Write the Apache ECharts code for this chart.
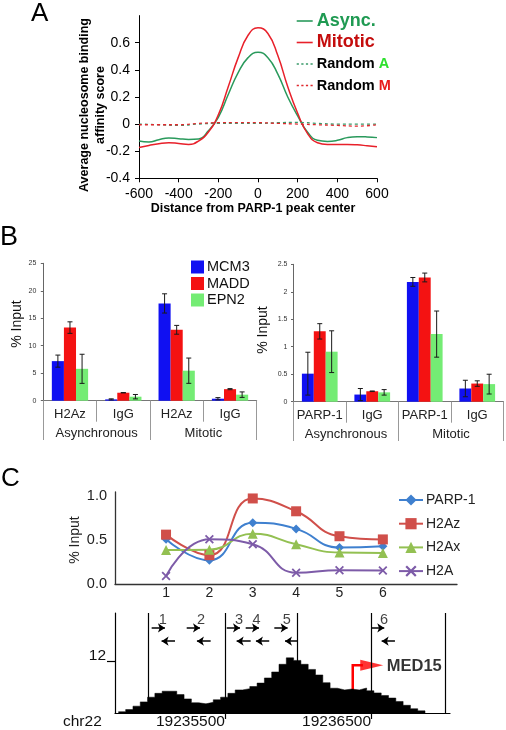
<!DOCTYPE html>
<html>
<head>
<meta charset="utf-8">
<script src="https://cdn.jsdelivr.net/npm/echarts@6/dist/echarts.min.js"></script>
<style>html,body{margin:0;padding:0;background:#fff;}#c{width:506px;height:730px;}</style>
</head>
<body>
<div id="c"></div>
<script>
// ---------- Panel A data ----------
const distA = [-600,-550,-500,-450,-400,-350,-300,-250,-200,-150,-100,-50,0,50,100,150,200,250,300,350,400,450,500,550,600];
const asyncScore = [-0.125,-0.133,-0.115,-0.103,-0.108,-0.113,-0.11,-0.05,0.05,0.218,0.38,0.49,0.53,0.49,0.368,0.20,0.06,-0.06,-0.12,-0.128,-0.12,-0.10,-0.093,-0.095,-0.10];
const mitoticScore = [-0.173,-0.158,-0.145,-0.138,-0.143,-0.15,-0.125,-0.058,0.068,0.275,0.49,0.655,0.71,0.668,0.505,0.275,0.08,-0.07,-0.138,-0.15,-0.15,-0.15,-0.153,-0.16,-0.168];
const distRandom = [-600,-500,-400,-300,-200,-100,0,100,200,300,400,500,600];
const randomA = [0.0,-0.005,-0.01,0.0,0.005,0.005,0.005,0.01,0.012,0.005,0.0,0.0,0.0];
const randomM = [-0.005,-0.005,-0.005,0.005,0.01,0.01,0.01,0.005,0.0,-0.005,-0.01,-0.015,-0.005];

// ---------- Panel B data ----------
const catsBLeft = ['H2Az','IgG','H2Az','IgG'];
const catsBRight = ['PARP-1','IgG','PARP-1','IgG'];
const groupsB = ['Asynchronous','Mitotic'];
const mcm3Left = [7.2,0.24,17.7,0.36];   const mcm3LeftErr = [1.1,0.1,1.75,0.2];
const maddLeft = [13.3,1.45,12.9,2.1];   const maddLeftErr = [1.05,0.03,0.8,0.1];
const epn2Left = [5.8,0.73,5.46,1.1];    const epn2LeftErr = [2.65,0.4,2.3,0.5];
const mcm3Right = [0.51,0.13,2.18,0.24]; const mcm3RightErr = [0.39,0.11,0.08,0.15];
const maddRight = [1.28,0.19,2.26,0.33]; const maddRightErr = [0.14,0.005,0.08,0.05];
const epn2Right = [0.91,0.17,1.23,0.32]; const epn2RightErr = [0.38,0.05,0.42,0.18];

// ---------- Panel C (top) data ----------
const primerSites = [1,2,3,4,5,6];
const parp1 = [0.507,0.268,0.692,0.623,0.413,0.428];
const h2az  = [0.558,0.326,0.967,0.822,0.54,0.504];
const h2ax  = [0.384,0.388,0.569,0.449,0.355,0.351];
const h2a   = [0.091,0.507,0.449,0.127,0.156,0.152];

// ---------- Panel C (bottom) data ----------
const binStart = [19234770,19234820,19234870,19234920,19234970,19235020,19235070,19235120,19235170,19235220,19235270,19235320,19235370,19235420,19235470,19235520,19235570,19235620,19235670,19235720,19235770,19235820,19235870,19235920,19235970,19236020,19236070,19236120,19236170,19236220,19236270,19236320,19236370,19236420,19236470,19236520,19236570,19236620,19236670,19236720,19236770,19236820];
const binEnd = 19236870;
const readDepth = [0.3,0.8,1.6,2.6,3.7,4.6,5.1,5.1,4.3,3.3,2.4,2.15,2.5,3.1,3.7,4.6,5.4,5.7,6.2,7.0,8.2,9.6,11.4,12.9,12.3,11.4,10.2,8.9,7.1,5.8,5.4,5.6,5.4,5.85,5.2,4.7,4.1,3.5,2.7,1.8,1.0,0.5];
const guideLines = [19234973,19235500,19235998,19236500,19237007];
const genomeTicks = [19235500,19236500];
const primerNames = ['1','2','3','4','5','6'];
const primerLabelPos = [19235075,19235336,19235596,19235717,19235923,19236589];
const fwdStart = [19234998,19235238,19235512,19235642,19235838,19236500];
const fwdEnd   = [19235089,19235329,19235603,19235733,19235929,19236591];
const revStart = [19235158,19235402,19235676,19235803,19235998,19236664];
const revEnd   = [19235066,19235308,19235580,19235712,19235911,19236573];
const med15Tss = 19236375;
const med15FlagEnd = 19236505;
const med15Label = 19236608;

const FONT = '"Liberation Sans", Arial, Helvetica, sans-serif';
const chart = echarts.init(document.getElementById('c'), null, {renderer:'canvas'});

const cBlue = '#1010f2', cRed = '#f41212', cGreen = '#74ec74';
const CAT_GAP = 0.32;

function errSeries(xIdx, yIdx, vals, errs, k) {
  return {
    type: 'custom', xAxisIndex: xIdx, yAxisIndex: yIdx, z: 5, silent: true,
    data: vals.map((v, i) => [i, v, errs[i]]),
    renderItem: function (params, api) {
      const i = api.value(0), v = api.value(1), e = api.value(2);
      const bandW = api.size([1, 0])[0];
      const bw = bandW * (1 - CAT_GAP) / 3;
      const cx = api.coord([i, v])[0] + (k - 1) * bw;
      const yt = api.coord([i, v + e])[1];
      const yb = api.coord([i, Math.max(v - e, 0)])[1];
      const cap = 2.5;
      const st = {stroke: '#1a1a1a', lineWidth: 1};
      return {type: 'group', children: [
        {type: 'line', shape: {x1: cx, y1: yt, x2: cx, y2: yb}, style: st},
        {type: 'line', shape: {x1: cx - cap, y1: yt, x2: cx + cap, y2: yt}, style: st},
        {type: 'line', shape: {x1: cx - cap, y1: yb, x2: cx + cap, y2: yb}, style: st}
      ]};
    }
  };
}
function barSeries(name, xIdx, yIdx, vals, color) {
  return {type: 'bar', name: name, xAxisIndex: xIdx, yAxisIndex: yIdx, data: vals,
    itemStyle: {color: color}, barGap: '0%', barCategoryGap: (CAT_GAP * 100) + '%', silent: true};
}
function catAxis(grid, data, len, margin, showLine) {
  return {type: 'category', gridIndex: grid, data: data, position: 'bottom',
    axisLine: {show: showLine, onZero: false, lineStyle: {color: '#777', width: 1}},
    axisTick: {show: true, interval: 0, length: len, lineStyle: {color: '#999', width: 1}},
    axisLabel: {interval: 0, margin: margin, fontFamily: FONT, fontSize: 13, color: '#222'},
    splitLine: {show: false}};
}
const xSymbol = 'path://M0,1.4L1.4,0L5,3.6L8.6,0L10,1.4L6.4,5L10,8.6L8.6,10L5,6.4L1.4,10L0,8.6L3.6,5Z';
const solidIcon = 'path://M0,0H16V1.6H0Z';
const dashIcon = 'path://M0,0H2.2V1.6H0Z M4.6,0H6.8V1.6H4.6Z M9.2,0H11.4V1.6H9.2Z M13.8,0H16V1.6H13.8Z';

const option = {
  animation: false,
  backgroundColor: '#fff',
  textStyle: {fontFamily: FONT},
  grid: [
    {left: 139, top: 15.6, width: 238, height: 162.7},
    {left: 43.3, top: 263.3, width: 213.4, height: 137.4},
    {left: 293.5, top: 264.3, width: 210, height: 137.4},
    {left: 115, top: 492, width: 342, height: 92},
    {left: 115, top: 613, width: 335, height: 102}
  ],
  xAxis: [
    {type: 'value', gridIndex: 0, min: -600, max: 600, interval: 200,
      axisLine: {onZero: false, lineStyle: {color: '#000', width: 1}},
      axisTick: {length: 4, lineStyle: {color: '#000'}},
      axisLabel: {margin: 9, fontFamily: FONT, fontSize: 14, color: '#000'},
      splitLine: {show: false}},
    catAxis(1, catsBLeft, 21, 7, true),
    catAxis(1, groupsB, 39.3, 26, false),
    catAxis(2, catsBRight, 21, 7, true),
    catAxis(2, groupsB, 39.3, 26, false),
    {type: 'value', gridIndex: 3, min: -0.177, max: 7.71,
      axisLine: {onZero: false, lineStyle: {color: '#333', width: 1.3}},
      axisTick: {show: false},
      axisLabel: {margin: 2, fontFamily: FONT, fontSize: 14, color: '#222',
        customValues: primerSites,
        formatter: v => (Number.isInteger(v) && v >= 1 && v <= 6) ? String(v) : ''},
      splitLine: {show: false}},
    {type: 'value', gridIndex: 4, min: 19234747, max: 19237041, scale: true,
      axisLine: {onZero: false, lineStyle: {color: '#000', width: 1.2}},
      axisTick: {length: 6, customValues: genomeTicks, lineStyle: {color: '#000', width: 1.2}},
      axisLabel: {margin: 1, fontFamily: FONT, fontSize: 15.5, color: '#111', align: 'right',
        customValues: genomeTicks,
        formatter: v => genomeTicks.indexOf(v) >= 0 ? String(v) : ''},
      splitLine: {show: false}}
  ],
  yAxis: [
    {type: 'value', gridIndex: 0, min: -0.4, max: 0.8, interval: 0.2,
      axisLine: {show: true, onZero: false, lineStyle: {color: '#000', width: 1}},
      axisTick: {show: true, length: 4, lineStyle: {color: '#000'}},
      axisLabel: {margin: 9, fontFamily: FONT, fontSize: 14, color: '#000', showMaxLabel: false,
        formatter: v => (v > 0.7 ? '' : String(Math.round(v * 10) / 10))},
      splitLine: {show: false}},
    {type: 'value', gridIndex: 1, min: 0, max: 25, interval: 5,
      axisLine: {show: true, onZero: false, lineStyle: {color: '#666', width: 1}},
      axisTick: {show: true, length: 2.5, lineStyle: {color: '#666'}},
      axisLabel: {margin: 7, fontFamily: FONT, fontSize: 7, color: '#333'},
      splitLine: {show: false}},
    {type: 'value', gridIndex: 2, min: 0, max: 2.5, interval: 0.5,
      axisLine: {show: true, onZero: false, lineStyle: {color: '#666', width: 1}},
      axisTick: {show: true, length: 2.5, lineStyle: {color: '#666'}},
      axisLabel: {margin: 6, fontFamily: FONT, fontSize: 7, color: '#333'},
      splitLine: {show: false}},
    {type: 'value', gridIndex: 3, min: 0, max: 1.04,
      axisLine: {show: true, onZero: false, lineStyle: {color: '#333', width: 1.3}},
      axisTick: {show: false},
      axisLabel: {margin: 8, fontFamily: FONT, fontSize: 14.5, color: '#222',
        customValues: [0, 0.5, 1],
        formatter: v => ([0, 0.5, 1].indexOf(v) >= 0 ? v.toFixed(1) : '')},
      splitLine: {show: false}},
    {type: 'value', gridIndex: 4, min: 0, max: 23.4,
      axisLine: {show: true, onZero: false, lineStyle: {color: '#000', width: 1.2}},
      axisTick: {show: true, length: 8, customValues: [12], lineStyle: {color: '#000', width: 1.2}},
      axisLabel: {margin: 9, fontFamily: FONT, fontSize: 15.5, color: '#111', verticalAlign: 'bottom', lineHeight: 12,
        customValues: [12], formatter: v => (v === 12 ? '12' : '')},
      splitLine: {show: false}}
  ],
  legend: [
    {left: 296.7, top: 11, padding: 0, orient: 'vertical', itemWidth: 16, itemHeight: 1.6, itemGap: 1.5,
      selectedMode: false,
      data: [{name: 'Async.', icon: solidIcon}, {name: 'Mitotic', icon: solidIcon},
             {name: 'Random A', icon: dashIcon}, {name: 'Random M', icon: dashIcon}],
      formatter: function (n) {
        if (n === 'Async.') return '{ag|Async.}';
        if (n === 'Mitotic') return '{mr|Mitotic}';
        if (n === 'Random A') return '{k|Random }{ga|A}';
        return '{k|Random }{rm|M}';
      },
      textStyle: {fontFamily: FONT, lineHeight: 20, padding: [0, 0, 0, -1],
        rich: {
          ag: {color: '#1f9a52', fontSize: 18, fontWeight: 'bold', fontFamily: FONT, lineHeight: 20},
          mr: {color: '#c40d0d', fontSize: 18, fontWeight: 'bold', fontFamily: FONT, lineHeight: 20},
          k: {color: '#000', fontSize: 14.5, fontWeight: 'bold', fontFamily: FONT, lineHeight: 20},
          ga: {color: '#2ee02e', fontSize: 14.5, fontWeight: 'bold', fontFamily: FONT, lineHeight: 20},
          rm: {color: '#e81c1c', fontSize: 14.5, fontWeight: 'bold', fontFamily: FONT, lineHeight: 20}
        }}},
    {left: 191, top: 259.5, padding: 0, orient: 'vertical', itemWidth: 13, itemHeight: 13, itemGap: 1.5,
      icon: 'rect', selectedMode: false,
      data: ['MCM3', 'MADD', 'EPN2'],
      textStyle: {fontFamily: FONT, fontSize: 14.5, color: '#111', lineHeight: 15, padding: [0, 0, 0, -2]}},
    {left: 398, top: 493, padding: 0, orient: 'vertical', itemWidth: 24, itemHeight: 14, itemGap: 9.7,
      selectedMode: false,
      data: ['PARP-1', 'H2Az', 'H2Ax', 'H2A'],
      textStyle: {fontFamily: FONT, fontSize: 14, color: '#222', lineHeight: 14, padding: [0, 0, 0, -2]}}
  ],
  series: [
    // Panel A
    {type: 'line', name: 'Async.', xAxisIndex: 0, yAxisIndex: 0, smooth: true, symbol: 'none',
      data: distA.map((d, i) => [d, asyncScore[i]]), lineStyle: {color: '#2a9a5c', width: 1.5}, itemStyle: {color: '#2a9a5c'}},
    {type: 'line', name: 'Mitotic', xAxisIndex: 0, yAxisIndex: 0, smooth: true, symbol: 'none',
      data: distA.map((d, i) => [d, mitoticScore[i]]), lineStyle: {color: '#e8202a', width: 1.5}, itemStyle: {color: '#e8202a'}},
    {type: 'line', name: 'Random A', xAxisIndex: 0, yAxisIndex: 0, smooth: true, symbol: 'none',
      data: distRandom.map((d, i) => [d, randomA[i]]), lineStyle: {color: '#3a9a6a', width: 1.3, type: [3, 3]}, itemStyle: {color: '#3a9a6a'}},
    {type: 'line', name: 'Random M', xAxisIndex: 0, yAxisIndex: 0, smooth: true, symbol: 'none',
      data: distRandom.map((d, i) => [d, randomM[i]]), lineStyle: {color: '#e0282e', width: 1.3, type: [3, 3]}, itemStyle: {color: '#e0282e'}},
    // Panel B left
    barSeries('MCM3', 1, 1, mcm3Left, cBlue),
    barSeries('MADD', 1, 1, maddLeft, cRed),
    barSeries('EPN2', 1, 1, epn2Left, cGreen),
    errSeries(1, 1, mcm3Left, mcm3LeftErr, 0),
    errSeries(1, 1, maddLeft, maddLeftErr, 1),
    errSeries(1, 1, epn2Left, epn2LeftErr, 2),
    // Panel B right
    barSeries('MCM3', 3, 2, mcm3Right, cBlue),
    barSeries('MADD', 3, 2, maddRight, cRed),
    barSeries('EPN2', 3, 2, epn2Right, cGreen),
    errSeries(3, 2, mcm3Right, mcm3RightErr, 0),
    errSeries(3, 2, maddRight, maddRightErr, 1),
    errSeries(3, 2, epn2Right, epn2RightErr, 2),
    // Panel C top
    {type: 'line', name: 'PARP-1', xAxisIndex: 5, yAxisIndex: 3, smooth: 0.5, symbol: 'diamond', symbolSize: 9,
      data: primerSites.map((s, i) => [s, parp1[i]]), lineStyle: {color: '#3f80cf', width: 2}, itemStyle: {color: '#3f80cf'}},
    {type: 'line', name: 'H2Az', xAxisIndex: 5, yAxisIndex: 3, smooth: 0.5, symbol: 'rect', symbolSize: 10,
      data: primerSites.map((s, i) => [s, h2az[i]]), lineStyle: {color: '#d04f4a', width: 2}, itemStyle: {color: '#d04f4a'}},
    {type: 'line', name: 'H2Ax', xAxisIndex: 5, yAxisIndex: 3, smooth: 0.5, symbol: 'triangle', symbolSize: 10,
      data: primerSites.map((s, i) => [s, h2ax[i]]), lineStyle: {color: '#93c052', width: 2}, itemStyle: {color: '#93c052'}},
    {type: 'line', name: 'H2A', xAxisIndex: 5, yAxisIndex: 3, smooth: 0.5, symbol: xSymbol, symbolSize: 9,
      data: primerSites.map((s, i) => [s, h2a[i]]), lineStyle: {color: '#7d5ba8', width: 2}, itemStyle: {color: '#7d5ba8'}},
    // Panel C bottom: read-depth histogram
    {type: 'line', name: 'depth', xAxisIndex: 6, yAxisIndex: 4, step: 'end', symbol: 'none', silent: true,
      data: binStart.map((b, i) => [b, readDepth[i]]).concat([[binEnd, 0]]),
      lineStyle: {color: '#000', width: 0.5}, areaStyle: {color: '#000', opacity: 1}, itemStyle: {color: '#000'},
      markLine: {silent: true, symbol: 'none', label: {show: false},
        lineStyle: {color: '#000', width: 1.2, type: 'solid'},
        data: guideLines.map(g => ({xAxis: g}))}},
    // primer arrows
    {type: 'lines', coordinateSystem: 'cartesian2d', xAxisIndex: 6, yAxisIndex: 4, silent: true,
      symbol: ['none', 'arrow'], symbolSize: 7,
      lineStyle: {color: '#000', width: 1.5, opacity: 1},
      data: fwdStart.map((s, i) => ({coords: [[s, 19.9], [fwdEnd[i], 19.9]]}))
        .concat(revStart.map((s, i) => ({coords: [[s, 16.8], [revEnd[i], 16.8]]})))},
    {type: 'scatter', xAxisIndex: 6, yAxisIndex: 4, symbolSize: 0, silent: true,
      data: primerNames.map((n, i) => ({name: n, value: [primerLabelPos[i], 21.8]})),
      label: {show: true, position: 'inside', formatter: '{b}', fontFamily: FONT, fontSize: 14.5, color: '#111'}},
    // MED15 TSS flag
    {type: 'lines', coordinateSystem: 'cartesian2d', xAxisIndex: 6, yAxisIndex: 4, polyline: true, silent: true,
      symbol: 'none', lineStyle: {color: '#ff0000', width: 2.5, opacity: 1},
      data: [{coords: [[med15Tss, 0], [med15Tss, 11.2], [med15FlagEnd - 60, 11.2]]}]},
    {type: 'scatter', xAxisIndex: 6, yAxisIndex: 4, silent: true, symbol: 'triangle', symbolRotate: -90,
      symbolSize: [11, 23], itemStyle: {color: '#ff0000'},
      data: [[med15FlagEnd, 11.17]]},
    {type: 'scatter', xAxisIndex: 6, yAxisIndex: 4, symbolSize: 0, silent: true,
      data: [{name: 'MED15', value: [med15Label, 10.8]}],
      label: {show: true, position: 'right', distance: 0, formatter: '{b}', fontFamily: FONT, fontSize: 16.5, fontWeight: 'bold', color: '#000'}}
  ],
  graphic: [
    {type: 'text', x: 31, y: 14, style: {text: 'A', font: '26px ' + FONT, fill: '#000', textVerticalAlign: 'middle'}},
    {type: 'text', x: 0, y: 238, style: {text: 'B', font: '27px ' + FONT, fill: '#000', textVerticalAlign: 'middle'}},
    {type: 'text', x: 1, y: 479, style: {text: 'C', font: '26px ' + FONT, fill: '#000', textVerticalAlign: 'middle'}},
    {type: 'text', x: 92.5, y: 105, rotation: Math.PI / 2,
      style: {text: 'Average nucleosome binding\naffinity score', font: 'bold 12.5px ' + FONT, fill: '#000',
        textAlign: 'center', textVerticalAlign: 'middle', lineHeight: 16}},
    {type: 'text', x: 253, y: 209, style: {text: 'Distance from PARP-1 peak center', font: 'bold 12.5px ' + FONT,
      fill: '#000', textAlign: 'center', textVerticalAlign: 'middle'}},
    {type: 'text', x: 17.5, y: 324, rotation: Math.PI / 2,
      style: {text: '% Input', font: '14px ' + FONT, fill: '#111', textAlign: 'center', textVerticalAlign: 'middle'}},
    {type: 'text', x: 263, y: 330, rotation: Math.PI / 2,
      style: {text: '% Input', font: '14px ' + FONT, fill: '#111', textAlign: 'center', textVerticalAlign: 'middle'}},
    {type: 'text', x: 75, y: 540, rotation: Math.PI / 2,
      style: {text: '% Input', font: '14px ' + FONT, fill: '#222', textAlign: 'center', textVerticalAlign: 'middle'}},
    {type: 'text', x: 63, y: 722, style: {text: 'chr22', font: '15.5px ' + FONT, fill: '#111', textVerticalAlign: 'middle'}}
  ]
};
chart.setOption(option);
</script>
</body>
</html>
